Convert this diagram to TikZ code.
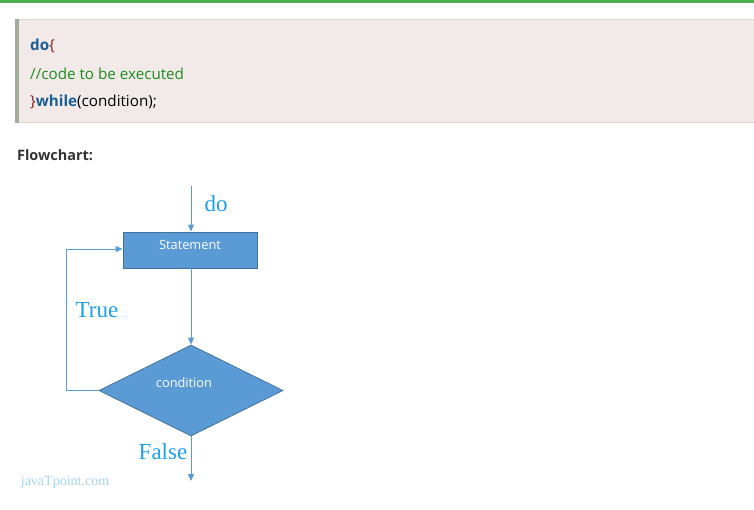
\documentclass[tikz,border=0pt]{standalone}
\usepackage{fontspec}
\setmainfont{Liberation Serif}
\setsansfont{Open Sans}
\usetikzlibrary{arrows.meta,positioning,shapes.geometric}
\definecolor{TopGreen}{HTML}{4CAF50}
\definecolor{CodeBg}{HTML}{F2E9E9}
\definecolor{CodeBar}{HTML}{A3AD9B}
\definecolor{CodeRule}{HTML}{DAD8CC}
\definecolor{KeyBlue}{HTML}{1A5E96}
\definecolor{BraceRed}{HTML}{8B1A1A}
\definecolor{CommentGreen}{HTML}{1E8C1E}
\definecolor{ShapeBlue}{HTML}{5B9BD5}
\definecolor{ShapeEdge}{HTML}{41719C}
\definecolor{LabelBlue}{HTML}{1EA0E6}
\definecolor{MarkBlue}{HTML}{A6D4EE}
\tikzset{
  codeline/.style={anchor=west, inner sep=0pt, font=\sffamily\fontsize{15.2}{17}\selectfont},
  headline/.style={anchor=west, inner sep=0pt, text=black!80, font=\sffamily\bfseries\fontsize{14.4}{16}\selectfont},
  stmtbox/.style={rectangle, draw=ShapeEdge, fill=ShapeBlue, line width=0.8pt, minimum width=134pt, minimum height=36pt},
  condbox/.style={diamond, draw=ShapeEdge, fill=ShapeBlue, line width=0.8pt, inner sep=0pt, minimum width=184pt, minimum height=91pt},
  boxtext/.style={text=white, inner sep=0pt, font=\sffamily\fontsize{12.8}{14}\selectfont},
  flowlabel/.style={text=LabelBlue, inner sep=0pt, font=\fontsize{23}{26}\selectfont},
  flowarrow/.style={-{Triangle[length=7pt,width=6pt]}, ShapeBlue, line width=1pt},
}
\newcommand{\kw}[1]{\textcolor{KeyBlue}{\textbf{#1}}}

\begin{document}
\begin{tikzpicture}[x=1pt, y=-1pt]
    \useasboundingbox[fill=white] (0,0) rectangle (754,509);
    % code block on top
    \fill[TopGreen] (0,0) rectangle (754,2.5);
    \fill[CodeBg] (15,19) rectangle (754,123);
    \draw[CodeRule] (15,19.5) -- (754,19.5) (15,122.5) -- (754,122.5);
    \fill[CodeBar] (15,19) rectangle (18.5,123);
    \node[codeline] (line1) at (30,46) {\kw{do}\textcolor{BraceRed}{\{}};
    \node[codeline, text=CommentGreen] (line2) at (30,74) {//code to be executed};
    \node[codeline] (line3) at (30,102) {\textcolor{BraceRed}{\}}\kw{while}(condition);};
    \node[headline] (head) at (17,155) {Flowchart:};
    % flowchart
    \node[stmtbox] (stmt) at (190,250) {};
    \node[boxtext] (stmtlbl) at ([yshift=5pt]stmt.center) {Statement};
    \node[condbox] (cond) at (191,390.5) {};
    \node[boxtext] (condlbl) at (184,383) {condition};
    \coordinate (start) at (191,186);
    \coordinate (finish) at (191,481);
    \draw[flowarrow] (start) -- (start |- stmt.north);
    \draw[flowarrow] (stmt.south -| cond.north) -- (cond.north);
    \draw[flowarrow] (cond.west) -- ++(-32,0) |- ([yshift=1pt]stmt.west);
    \draw[flowarrow] (cond.south) -- (finish);
    \node[flowlabel] (dolbl) at (216,204) {do};
    \node[flowlabel] (truelbl) at (97,310) {True};
    \node[flowlabel] (falselbl) at (163,452) {False};
    \node[text=MarkBlue, inner sep=0pt, font=\fontsize{14}{16}\selectfont] (mark) at (65,482) {javaTpoint.com};
  \end{tikzpicture}
\end{document}
